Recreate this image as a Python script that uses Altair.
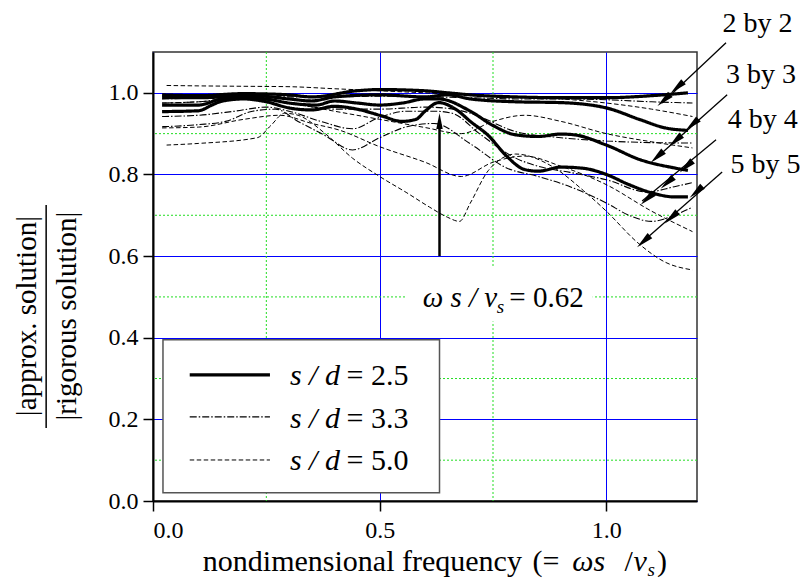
import altair as alt
import pandas as pd

# ---------------- data ----------------
# s/d = 2.5 (thick solid)
S25_2_X = [0.02, 0.1, 0.2, 0.3, 0.35, 0.45, 0.5, 0.6, 0.65, 0.7, 0.8, 0.9, 1.0, 1.1, 1.18]
S25_2_Y = [0.995, 0.993, 0.998, 0.995, 0.99, 1.005, 1.008, 1.005, 1.0, 0.995, 0.99, 0.988, 0.988, 0.993, 1.0]
S25_3_X = [0.02, 0.1, 0.15, 0.2, 0.3, 0.35, 0.4, 0.5, 0.6, 0.65, 0.7, 0.8, 0.9, 1.0, 1.075, 1.13, 1.18]
S25_3_Y = [0.988, 0.988, 0.99, 0.995, 0.985, 0.98, 0.99, 0.995, 0.99, 0.995, 0.985, 0.978, 0.976, 0.963, 0.934, 0.914, 0.908]
S25_4_X = [0.02, 0.1, 0.15, 0.2, 0.25, 0.3, 0.36, 0.4, 0.45, 0.5, 0.55, 0.6, 0.63, 0.7, 0.75, 0.8, 0.85, 0.9, 0.93, 1.0, 1.075, 1.15, 1.18]
S25_4_Y = [0.97, 0.97, 0.985, 0.99, 0.985, 0.975, 0.97, 0.98, 0.975, 0.97, 0.975, 0.985, 0.985, 0.955, 0.92, 0.897, 0.893, 0.899, 0.897, 0.872, 0.836, 0.816, 0.81]
S25_5_X = [0.02, 0.1, 0.13, 0.15, 0.2, 0.25, 0.3, 0.35, 0.4, 0.45, 0.5, 0.55, 0.58, 0.6, 0.63, 0.67, 0.7, 0.74, 0.78, 0.82, 0.85, 0.9, 0.95, 1.0, 1.05, 1.1, 1.15, 1.18]
S25_5_Y = [0.954, 0.956, 0.97, 0.979, 0.985, 0.978, 0.963, 0.958, 0.967, 0.96, 0.945, 0.93, 0.935, 0.955, 0.976, 0.958, 0.93, 0.895, 0.845, 0.812, 0.808, 0.818, 0.815, 0.80, 0.775, 0.755, 0.745, 0.745]

# s/d = 3.3 (dash-dot)
S33_2_X = [0.02, 0.1, 0.2, 0.3, 0.4, 0.5, 0.6, 0.7, 0.8, 0.9, 1.0, 1.1, 1.19]
S33_2_Y = [0.985, 0.988, 0.995, 0.99, 0.99, 0.992, 0.99, 0.988, 0.985, 0.985, 0.983, 0.978, 0.975]
S33_3_X = [0.02, 0.1, 0.2, 0.3, 0.4, 0.5, 0.6, 0.65, 0.7, 0.8, 0.9, 1.0, 1.1, 1.19]
S33_3_Y = [0.975, 0.978, 0.99, 0.975, 0.96, 0.96, 0.965, 0.962, 0.95, 0.905, 0.89, 0.882, 0.878, 0.877]
S33_4_X = [0.02, 0.1, 0.18, 0.25, 0.3, 0.37, 0.44, 0.5, 0.56, 0.62, 0.66, 0.72, 0.8, 0.85, 0.92, 1.0, 1.09, 1.15, 1.19]
S33_4_Y = [0.942, 0.945, 0.955, 0.965, 0.955, 0.93, 0.912, 0.94, 0.955, 0.955, 0.95, 0.9, 0.84, 0.82, 0.805, 0.787, 0.757, 0.77, 0.78]
S33_5_X = [0.02, 0.1, 0.16, 0.22, 0.27, 0.32, 0.38, 0.44, 0.5, 0.56, 0.62, 0.7, 0.78, 0.85, 0.92, 1.0, 1.05, 1.1, 1.15, 1.19]
S33_5_Y = [0.917, 0.922, 0.93, 0.955, 0.96, 0.93, 0.895, 0.86, 0.89, 0.917, 0.925, 0.875, 0.816, 0.795, 0.77, 0.73, 0.70, 0.685, 0.70, 0.72]

# s/d = 5.0 (dashed)
S50_2_X = [0.03, 0.1, 0.2, 0.3, 0.4, 0.5, 0.6, 0.7, 0.8, 0.9, 1.0, 1.1, 1.19]
S50_2_Y = [1.018, 1.017, 1.016, 1.015, 1.01, 1.005, 1.0, 0.995, 0.99, 0.985, 0.975, 0.96, 0.942]
S50_3_X = [0.02, 0.1, 0.2, 0.3, 0.4, 0.5, 0.6, 0.68, 0.75, 0.82, 0.9, 1.0, 1.1, 1.19]
S50_3_Y = [0.975, 0.978, 0.985, 0.975, 0.955, 0.935, 0.915, 0.9, 0.93, 0.945, 0.93, 0.9, 0.88, 0.865]
S50_4_X = [0.02, 0.1, 0.2, 0.28, 0.35, 0.41, 0.5, 0.6, 0.68, 0.75, 0.82, 0.9, 1.0, 1.1, 1.19]
S50_4_Y = [0.914, 0.916, 0.935, 0.945, 0.925, 0.909, 0.868, 0.83, 0.795, 0.83, 0.845, 0.82, 0.775, 0.71, 0.66]
S50_5_X = [0.03, 0.1, 0.23, 0.26, 0.29, 0.32, 0.38, 0.44, 0.5, 0.56, 0.61, 0.65, 0.676, 0.7, 0.74, 0.8, 0.88, 0.95, 1.0, 1.07, 1.13, 1.19]
S50_5_Y = [0.872, 0.876, 0.89, 0.92, 0.95, 0.945, 0.9, 0.84, 0.795, 0.755, 0.72, 0.695, 0.685, 0.73, 0.81, 0.85, 0.82, 0.76, 0.71, 0.632, 0.585, 0.566]

SD_LABELS = ["2.5", "3.3", "5.0"]
GRID_LABELS = ["2 by 2", "3 by 3", "4 by 4", "5 by 5"]
X_TICKS = [0.0, 0.5, 1.0]
Y_TICKS = [0.0, 0.2, 0.4, 0.6, 0.8, 1.0]
X_MINOR = [0.25, 0.75]
Y_MINOR = [0.1, 0.3, 0.5, 0.7, 0.9]

# ---------------- table ----------------
curves = {
    ("2.5", 0): (S25_2_X, S25_2_Y), ("2.5", 1): (S25_3_X, S25_3_Y),
    ("2.5", 2): (S25_4_X, S25_4_Y), ("2.5", 3): (S25_5_X, S25_5_Y),
    ("3.3", 0): (S33_2_X, S33_2_Y), ("3.3", 1): (S33_3_X, S33_3_Y),
    ("3.3", 2): (S33_4_X, S33_4_Y), ("3.3", 3): (S33_5_X, S33_5_Y),
    ("5.0", 0): (S50_2_X, S50_2_Y), ("5.0", 1): (S50_3_X, S50_3_Y),
    ("5.0", 2): (S50_4_X, S50_4_Y), ("5.0", 3): (S50_5_X, S50_5_Y),
}
rows = []
for (sd, g), (xs, ys) in curves.items():
    for xv, yv in zip(xs, ys):
        rows.append({"x": xv, "y": yv, "sd": sd, "grid": GRID_LABELS[g]})
df = pd.DataFrame(rows)

FONT = "Liberation Serif, Times New Roman, DejaVu Serif, serif"
XS = alt.Scale(domain=[0, 1.2], nice=False, zero=False)
YS = alt.Scale(domain=[0, 1.1], nice=False, zero=False)

STYLE = {
    "2.5": dict(strokeWidth=3.2, strokeDash=[1, 0]),
    "3.3": dict(strokeWidth=1.1, strokeDash=[7, 2, 1.5, 2]),
    "5.0": dict(strokeWidth=1.0, strokeDash=[4.5, 2.5]),
}

# ---------------- axes + minor grid ----------------
vgrid = alt.Chart(pd.DataFrame({"x": X_MINOR})).mark_rule(
    color="#22dd22", strokeDash=[2, 2], strokeWidth=1
).encode(
    x=alt.X("x:Q", scale=XS, axis=alt.Axis(values=X_TICKS, format=".1f", title=None,
                                            labelPadding=7))
)
hgrid = alt.Chart(pd.DataFrame({"y": Y_MINOR})).mark_rule(
    color="#22dd22", strokeDash=[2, 2], strokeWidth=1
).encode(
    y=alt.Y("y:Q", scale=YS, axis=alt.Axis(values=Y_TICKS, format=".1f", title=None,
                                            labelPadding=5))
)

# white box behind annotation text
note_box = alt.Chart(pd.DataFrame({"x": [0.56], "x2": [0.97], "y": [0.44], "y2": [0.571]})).mark_rect(
    color="white"
).encode(x=alt.X("x:Q", scale=XS), x2="x2:Q", y=alt.Y("y:Q", scale=YS), y2="y2:Q")

def curve_layer(sd):
    return alt.Chart(df[df.sd == sd]).mark_line(
        interpolate="monotone", color="black", **STYLE[sd]
    ).encode(
        x=alt.X("x:Q", scale=XS),
        y=alt.Y("y:Q", scale=YS),
        detail="grid:N",
    )

lines = [curve_layer("5.0"), curve_layer("3.3"), curve_layer("2.5")]

def txt(xv, yv, s, size=28, italic=False, align="left"):
    kw = dict(font=FONT, fontSize=size, align=align, baseline="alphabetic", color="black")
    if italic:
        kw["fontStyle"] = "italic"
    return alt.Chart(pd.DataFrame({"x": [xv], "y": [yv], "t": [s]})).mark_text(**kw).encode(
        x=alt.X("x:Q", scale=XS), y=alt.Y("y:Q", scale=YS), text="t:N"
    )

# ---------------- legend (drawn inside plot) ----------------
leg_box = alt.Chart(pd.DataFrame({"x": [0.022], "x2": [0.632], "y": [0.02], "y2": [0.395]})).mark_rect(
    fill="white", stroke="#555555", strokeWidth=1.5
).encode(x=alt.X("x:Q", scale=XS), x2="x2:Q", y=alt.Y("y:Q", scale=YS), y2="y2:Q")

LEG_Y = [0.309, 0.206, 0.1005]
LEG_TY = [0.284, 0.18, 0.076]
leg_layers = []
for sd, ly, ty in zip(SD_LABELS, LEG_Y, LEG_TY):
    leg_layers.append(
        alt.Chart(pd.DataFrame({"x": [0.081], "x2": [0.258], "y": [ly]})).mark_rule(
            color="black", **STYLE[sd]
        ).encode(x=alt.X("x:Q", scale=XS), x2="x2:Q", y=alt.Y("y:Q", scale=YS))
    )
    leg_layers.append(txt(0.302, ty, "s / d", 30, italic=True))
    leg_layers.append(txt(0.427, ty, "= " + sd, 30))

# ---------------- annotation: omega s / v_s = 0.62 ----------------
ARROW = "M0,-1L0.4,1L-0.4,1Z"
v_arrow = alt.Chart(pd.DataFrame({"x": [0.632], "y": [0.6], "y2": [0.93]})).mark_rule(
    color="black", strokeWidth=2.5
).encode(x=alt.X("x:Q", scale=XS), y=alt.Y("y:Q", scale=YS), y2="y2:Q")
v_head = alt.Chart(pd.DataFrame({"x": [0.632], "y": [0.931]})).mark_point(
    shape=ARROW, filled=True, color="black", opacity=1, size=256, angle=0
).encode(x=alt.X("x:Q", scale=XS), y=alt.Y("y:Q", scale=YS))

note = [
    txt(0.595, 0.475, "ω s / v", 29, italic=True),
    txt(0.758, 0.46, "s", 19, italic=True),
    txt(0.786, 0.475, "= 0.62", 29),
]

# ---------------- grid-size labels with arrows ----------------
LABEL_X = [1.256, 1.264, 1.268, 1.274]
LABEL_Y = [1.15, 1.0245, 0.914, 0.804]
ARROW_FROM = [(1.264, 1.1225), (1.2665, 0.995), (1.242, 0.885), (1.2555, 0.806)]
ARROW_TO = [(1.123, 0.975), (1.1057, 0.836), (1.079, 0.735), (1.077, 0.632)]
HEADS_X = [1.156, 1.127, 1.189, 1.152, 1.112, 1.176, 1.134, 1.09, 1.198, 1.143, 1.082]
HEADS_Y = [1.013, 0.982, 0.9216, 0.882, 0.843, 0.819, 0.779, 0.74, 0.757, 0.694, 0.636]

lab_layers = []
for lx, ly, s in zip(LABEL_X, LABEL_Y, GRID_LABELS):
    lab_layers.append(txt(lx, ly, s, 28))
arrow_df = pd.DataFrame({
    "x": [a[0] for a in ARROW_FROM], "y": [a[1] for a in ARROW_FROM],
    "x2": [b[0] for b in ARROW_TO], "y2": [b[1] for b in ARROW_TO],
})
arrow_lines = alt.Chart(arrow_df).mark_rule(color="black", strokeWidth=1.3).encode(
    x=alt.X("x:Q", scale=XS), y=alt.Y("y:Q", scale=YS), x2="x2:Q", y2="y2:Q"
)
arrow_heads = alt.Chart(pd.DataFrame({"x": HEADS_X, "y": HEADS_Y})).mark_point(
    shape=ARROW, filled=True, color="black", opacity=1, size=300, angle=228, strokeWidth=0
).encode(x=alt.X("x:Q", scale=XS), y=alt.Y("y:Q", scale=YS))

# ---------------- axis titles as text ----------------
ytitle = [
    alt.Chart(pd.DataFrame({"x": [-0.2775], "y": [0.453], "t": ["|approx. solution|"]})).mark_text(
        font=FONT, fontSize=29, angle=270, align="center", baseline="middle", color="black"
    ).encode(x=alt.X("x:Q", scale=XS), y=alt.Y("y:Q", scale=YS), text="t:N"),
    alt.Chart(pd.DataFrame({"x": [-0.1894], "y": [0.453], "t": ["|rigorous solution|"]})).mark_text(
        font=FONT, fontSize=29, angle=270, align="center", baseline="middle", color="black"
    ).encode(x=alt.X("x:Q", scale=XS), y=alt.Y("y:Q", scale=YS), text="t:N"),
    alt.Chart(pd.DataFrame({"x": [-0.2357], "y": [0.179], "y2": [0.725]})).mark_rule(
        color="black", strokeWidth=1.5
    ).encode(x=alt.X("x:Q", scale=XS), y=alt.Y("y:Q", scale=YS), y2="y2:Q"),
]
xtitle = [
    txt(0.11, -0.172, "nondimensional frequency", 30),
    txt(0.837, -0.172, "(=", 30),
    txt(0.925, -0.172, "ωs", 30, italic=True),
    txt(1.04, -0.172, "/", 30),
    txt(1.06, -0.172, "v", 30, italic=True),
    txt(1.091, -0.183, "s", 19, italic=True),
    txt(1.112, -0.172, ")", 30),
]

chart = alt.layer(
    vgrid, hgrid, note_box, *lines, leg_box, *leg_layers,
    v_arrow, v_head, *note, arrow_lines, arrow_heads, *lab_layers, *ytitle, *xtitle
).properties(
    width=544, height=449,
    padding={"left": 145, "top": 44, "right": 103, "bottom": 84},
    autosize=alt.AutoSizeParams(type="none"),
).configure_view(
    stroke="#333333", strokeWidth=1.5
).configure_axis(
    grid=True, gridColor="#0000ff", gridWidth=1, gridOpacity=1,
    domainColor="black", domainWidth=2,
    tickColor="black", tickWidth=1.5, tickSize=10,
    labelFont=FONT, labelFontSize=24, labelColor="black",
)

chart.save("out.html", embed_options={"renderer": "svg", "actions": False})
